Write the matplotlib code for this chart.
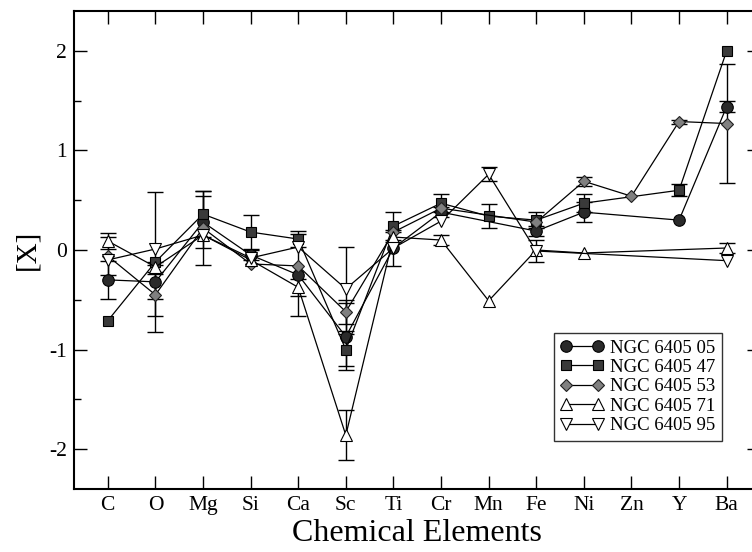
import numpy as np
import matplotlib
matplotlib.use("Agg")
import matplotlib.pyplot as plt
from matplotlib.ticker import MultipleLocator

plt.rcParams['font.family'] = ['Liberation Serif', 'DejaVu Serif']
plt.rcParams['axes.unicode_minus'] = False

elements = ["C", "O", "Mg", "Si", "Ca", "Sc", "Ti", "Cr", "Mn", "Fe", "Ni", "Zn", "Y", "Ba"]
nan = np.nan

s05 = [-0.30, -0.32, 0.28, -0.05, -0.25, -0.87, 0.02, 0.38, nan, 0.19, 0.38, nan, 0.30, 1.44]
e05 = [0.19, 0.17, 0.26, 0.05, 0.41, 0.34, 0.18, 0.05, nan, 0.05, 0.10, nan, 0.0, 0.055]

s47 = [-0.71, -0.12, 0.36, 0.18, 0.11, -1.00, 0.24, 0.47, 0.34, 0.30, 0.47, nan, 0.60, 2.00]
e47 = [0.0, 0.70, 0.23, 0.17, 0.08, 0.16, 0.14, 0.09, 0.12, 0.08, 0.09, nan, 0.06, 0.0]

s53 = [-0.06, -0.45, 0.22, -0.14, -0.16, -0.62, 0.18, 0.42, nan, 0.28, 0.69, 0.54, 1.29, 1.27]
e53 = [0.19, 0.21, 0.37, 0.0, 0.0, 0.12, 0.0, 0.0, nan, 0.0, 0.045, 0.0, 0.02, 0.60]

s71 = [0.09, -0.17, 0.15, -0.10, -0.375, -1.86, 0.13, 0.10, -0.51, 0.00, -0.03, nan, nan, 0.02]
e71 = [0.08, 0.05, 0.0, 0.0, 0.085, 0.25, 0.05, 0.05, 0.0, 0.0, 0.0, nan, nan, 0.05]

s95 = [-0.10, 0.01, 0.15, -0.08, 0.03, -0.39, 0.02, 0.29, 0.76, -0.01, nan, nan, nan, -0.107]
e95 = [0.0, 0.0, 0.0, 0.0, 0.0, 0.42, 0.0, 0.0, 0.07, 0.11, nan, nan, nan, 0.0]

labels = ["NGC 6405 05", "NGC 6405 47", "NGC 6405 53", "NGC 6405 71", "NGC 6405 95"]
series = [s05, s47, s53, s71, s95]
errors = [e05, e47, e53, e71, e95]
styles = [
    dict(marker='o', ms=8.3, mfc='#2a2a2a', mec='black'),
    dict(marker='s', ms=7.8, mfc='#3a3a3a', mec='black'),
    dict(marker='D', ms=6.3, mfc='#808080', mec='#202020'),
    dict(marker='^', ms=8.8, mfc='white', mec='black'),
    dict(marker='v', ms=8.8, mfc='white', mec='black'),
]

fig = plt.figure(figsize=(7.52, 5.52), dpi=100)
ax = fig.add_axes([74/752, 63/552, 686/752, 478/552])

x_all = np.arange(1, len(elements) + 1)
for vals, errs, lab, st in zip(series, errors, labels, styles):
    v = np.array(vals, dtype=float)
    e = np.array(errs, dtype=float)
    m = ~np.isnan(v)
    xs, ys, es = x_all[m], v[m], e[m]
    em = es > 0
    ax.errorbar(xs[em], ys[em], yerr=es[em], fmt='none', ecolor='black',
                elinewidth=1.0, capsize=6, capthick=1.0, zorder=2)
    ax.plot(xs, ys, color='black', lw=0.9, label=lab, mew=0.8, zorder=3, **st)

ax.set_xlim(0.29, 14.7)
ax.set_ylim(-2.4, 2.4)
ax.set_xticks(x_all)
ax.set_xticklabels(elements)
ax.yaxis.set_major_locator(MultipleLocator(1))
ax.yaxis.set_minor_locator(MultipleLocator(0.5))
ax.tick_params(axis='both', which='both', direction='in', top=True, right=True)
ax.tick_params(axis='both', which='major', length=9.4, width=1.0, labelsize=15.5, pad=5)
ax.tick_params(axis='both', which='minor', length=5, width=1.0)
for sp in ax.spines.values():
    sp.set_linewidth(1.5)

ax.set_xlabel("Chemical Elements", fontsize=23, labelpad=3)
ax.set_ylabel("[X]", fontsize=21, labelpad=6)

leg = ax.legend(loc='lower left', bbox_to_anchor=(0.6997, 0.101), borderaxespad=0,
                numpoints=2, fontsize=13.5, handlelength=2.3, handletextpad=0.35,
                labelspacing=0.12, borderpad=0.35, fancybox=False, frameon=True)
leg.get_frame().set_edgecolor('black')
leg.get_frame().set_linewidth(1.0)

fig.savefig("out.png", dpi=100)
